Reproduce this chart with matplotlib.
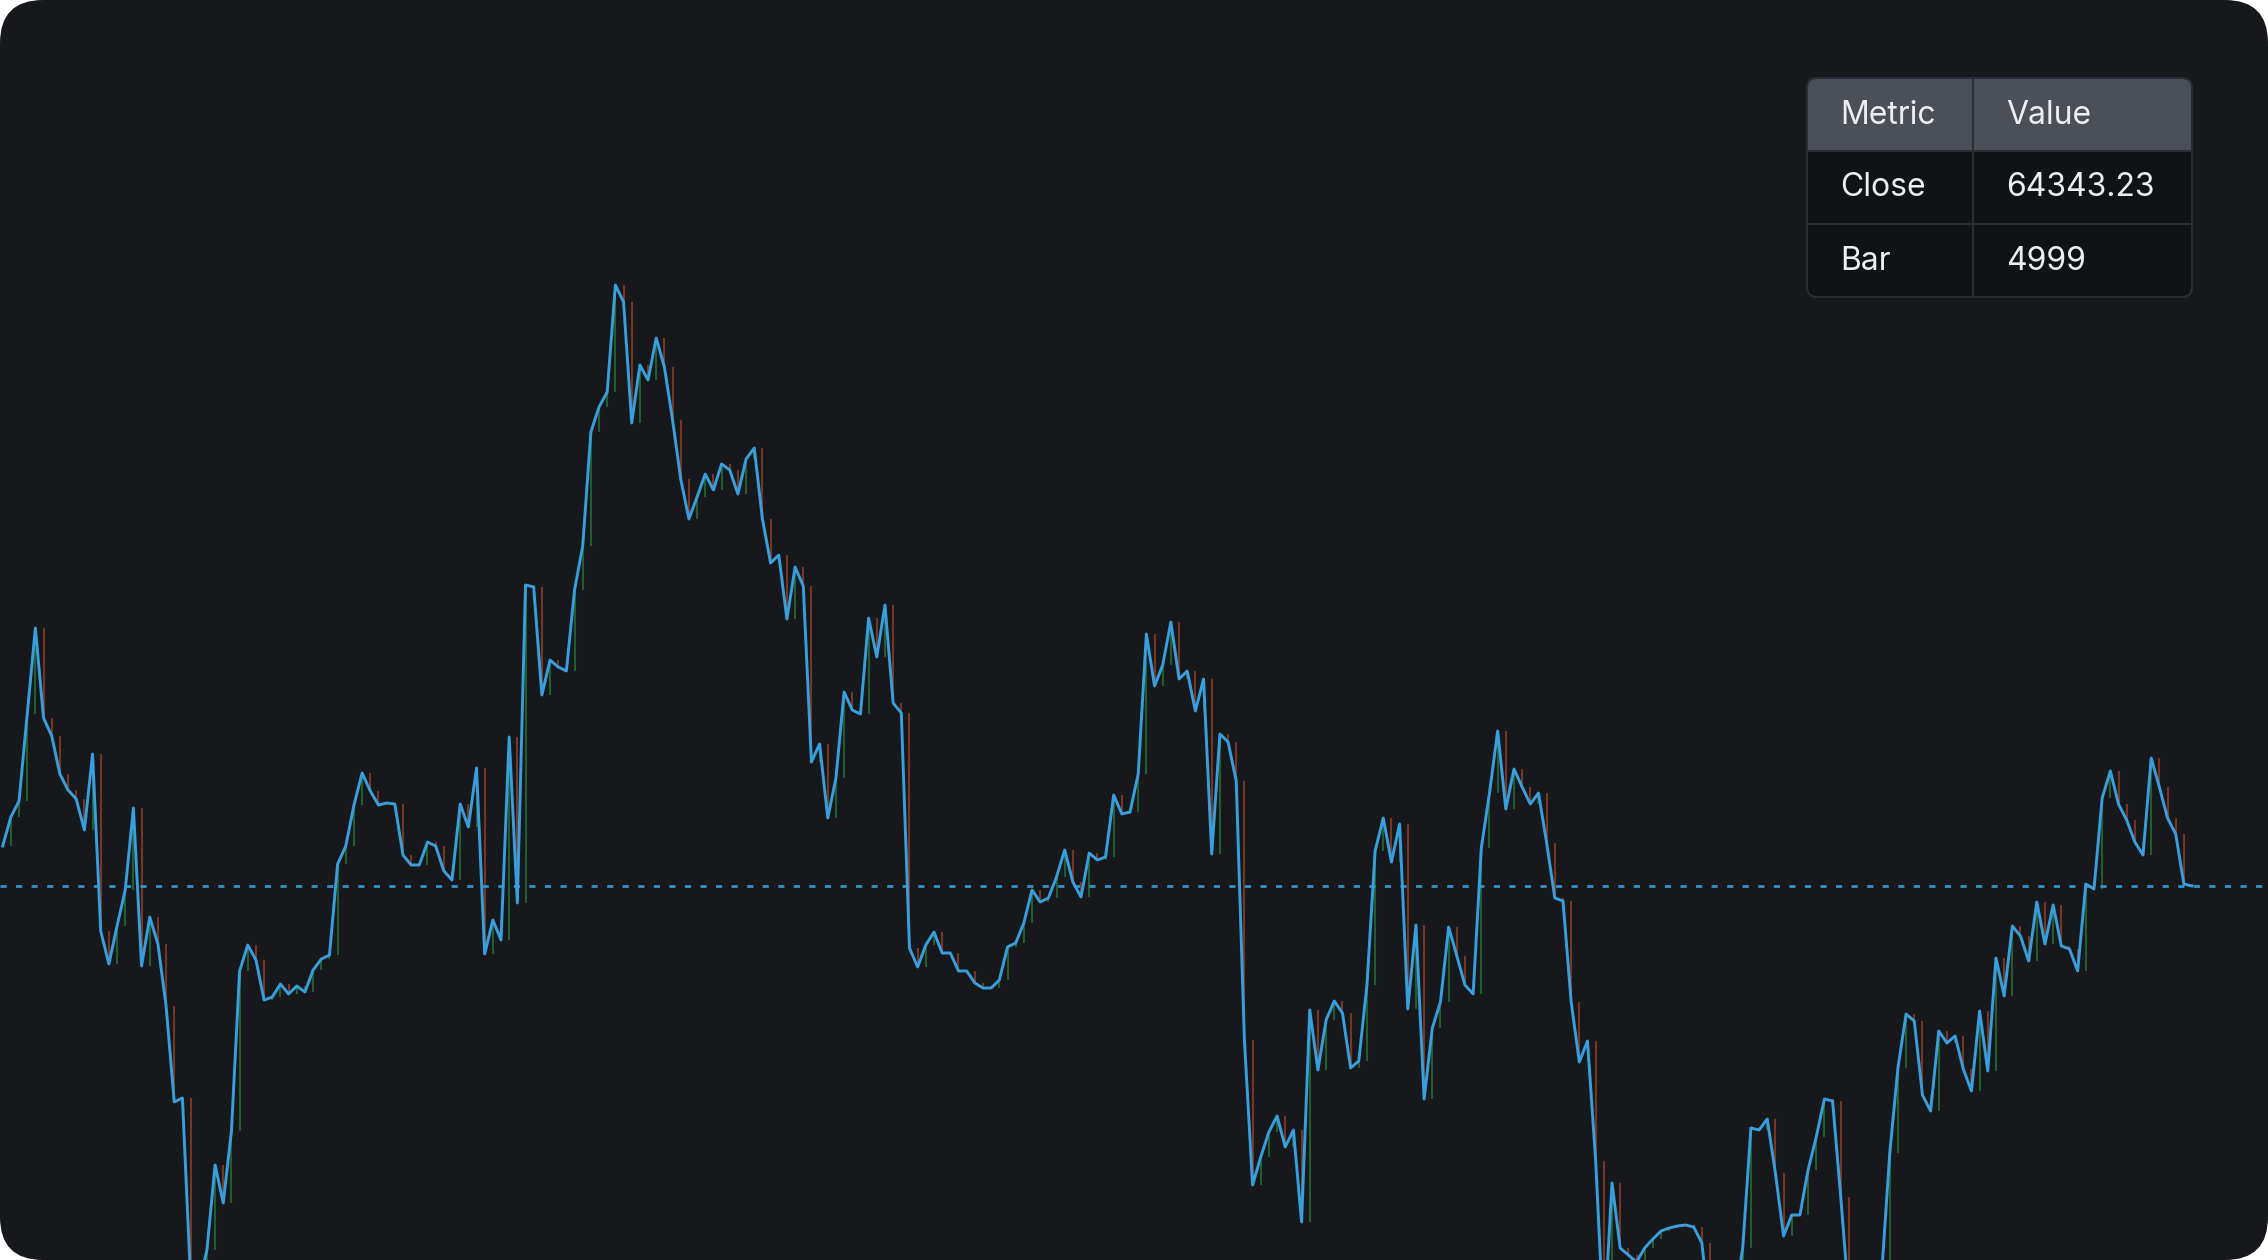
import numpy as np
import matplotlib
matplotlib.use("Agg")
import matplotlib.pyplot as plt
from matplotlib.patches import FancyBboxPatch, Rectangle
from matplotlib.transforms import IdentityTransform

# close prices, one per bar
close = [
    64623, 64826, 64938, 65547, 66149, 65519, 65393, 65127, 65015, 64952,
    64735, 65267, 64028, 63797, 64063, 64315, 64889, 63783, 64126, 63937,
    63503, 62831, 62859, 61585, 61550, 61795, 62390, 62124, 62628, 63748,
    63930, 63825, 63545, 63566, 63657, 63587, 63643, 63601, 63755, 63832,
    63860, 64497, 64623, 64910, 65134, 65008, 64910, 64924, 64917, 64560,
    64490, 64490, 64651, 64623, 64448, 64385, 64917, 64756, 65169, 63867,
    64105, 63965, 65386, 64224, 66450, 66436, 65680, 65925, 65876, 65848,
    66415, 66723, 67521, 67696, 67801, 68550, 68431, 67584, 67990, 67885,
    68179, 67976, 67605, 67192, 66912, 67066, 67227, 67115, 67297, 67255,
    67087, 67332, 67409, 66912, 66604, 66660, 66212, 66576, 66443, 65211,
    65337, 64819, 65099, 65701, 65575, 65547, 66219, 65946, 66310, 65624,
    65554, 63909, 63776, 63930, 64021, 63874, 63874, 63748, 63748, 63664,
    63629, 63629, 63685, 63916, 63944, 64084, 64315, 64231, 64259, 64406,
    64595, 64371, 64266, 64574, 64525, 64546, 64980, 64847, 64861, 65127,
    66107, 65743, 65890, 66191, 65792, 65848, 65568, 65792, 64567, 65407,
    65351, 65078, 63265, 62250, 62446, 62621, 62733, 62516, 62635, 61991,
    63475, 63055, 63405, 63538, 63454, 63069, 63118, 63650, 64588, 64819,
    64511, 64777, 63482, 64070, 62852, 63349, 63531, 64056, 63853, 63650,
    63587, 64609, 64994, 65428, 64882, 65162, 65036, 64917, 64994, 64644,
    64259, 64238, 63531, 63111, 63258, 62418, 61235, 62264, 61809, 61760,
    61711, 61809, 61872, 61928, 61949, 61963, 61970, 61956, 61844, 61305,
    61235, 61305, 61445, 61809, 62649, 62635, 62712, 62334, 61893, 62040,
    62040, 62355, 62586, 62852, 62838, 62166, 61445, 61375, 61445, 61515,
    61620, 62474, 63069, 63447, 63398, 62880, 62768, 63328, 63244, 63293,
    63062, 62908, 63468, 63048, 63839, 63573, 64063, 63993, 63818, 64231,
    63937, 64210, 63923, 63902, 63748, 64357, 64322, 64959, 65148, 64917,
    64805, 64651, 64560, 65239, 65036, 64819, 64707, 64357, 64343.23,
]

last_bar = 4999
table_rows = [("Metric", "Value"), ("Close", f"{close[-1]:.2f}"), ("Bar", str(last_bar))]

W, H = 2268, 1260
BG = "#16181c"
LINE = "#389fdc"
UP = "#2ea043"
DOWN = "#d9552c"

fig = plt.figure(figsize=(W / 100, H / 100), dpi=100)
fig.patch.set_facecolor("white")

# rounded dark panel
bg = FancyBboxPatch((0, 0), W, H, boxstyle="round,pad=0,rounding_size=43",
                    transform=IdentityTransform(), facecolor=BG, edgecolor="none",
                    zorder=-5)
fig.add_artist(bg)

ax = fig.add_axes([0, 0, 1, 1])
ax.set_facecolor("none")
ax.axis("off")

x = np.arange(len(close))
c = np.array(close, dtype=float)
o = np.concatenate([[c[0]], c[:-1]])
colors = [UP if cc >= oo else DOWN for cc, oo in zip(c, o)]

# faint candle bodies (open = previous close)
wicks = ax.vlines(x, np.minimum(o, c), np.maximum(o, c), colors=colors,
                  linewidth=1.5, alpha=0.5, zorder=1)
wicks.set_clip_path(bg)

ln, = ax.plot(x, c, color=LINE, linewidth=2.1, zorder=3)
ln.set_clip_path(bg)
hl = ax.axhline(c[-1], color=LINE, linewidth=2.0, linestyle=(0, (2.2, 3.4)),
                alpha=0.9, zorder=2)
hl.set_clip_path(bg)

ax.set_xlim(-0.33, 277.3)
ax.set_ylim(61725, 70545)

# table overlay in pixel units
ov = fig.add_axes([0, 0, 1, 1])
ov.set_xlim(0, W)
ov.set_ylim(H, 0)
ov.axis("off")
ov.set_facecolor("none")

tx, ty, tw, th = 1807, 78, 385, 219
row_h = th / 3
col_x = 1973

body = FancyBboxPatch((tx, ty), tw, th, boxstyle="round,pad=0,rounding_size=10",
                      facecolor="#111215", edgecolor="none", zorder=1)
ov.add_patch(body)
head = FancyBboxPatch((tx, ty), tw, th, boxstyle="round,pad=0,rounding_size=10",
                      facecolor="#4b5058", edgecolor="none", zorder=2)
ov.add_patch(head)
clip = Rectangle((tx, ty), tw, row_h, transform=ov.transData)
head.set_clip_path(clip)

for k in (1, 2):
    ov.plot([tx, tx + tw], [ty + k * row_h] * 2, color="#2c2f35", lw=1.5, zorder=3)
ov.plot([col_x, col_x], [ty, ty + th], color="#2c2f35", lw=1.5, zorder=3)
border = FancyBboxPatch((tx, ty), tw, th, boxstyle="round,pad=0,rounding_size=10",
                        facecolor="none", edgecolor="#2a2d33", lw=1.5, zorder=4)
ov.add_patch(border)

for r, (a, b) in enumerate(table_rows):
    yc = ty + (r + 0.5) * row_h - 3
    col = "#eceef1"
    ov.text(1840, yc, a, ha="left", va="center_baseline", fontsize=23,
            color=col, family=["Inter", "DejaVu Sans"], zorder=5)
    ov.text(2006, yc, b, ha="left", va="center_baseline", fontsize=23,
            color=col, family=["Inter", "DejaVu Sans"], zorder=5)

fig.savefig("out.png", dpi=100, facecolor="white")
